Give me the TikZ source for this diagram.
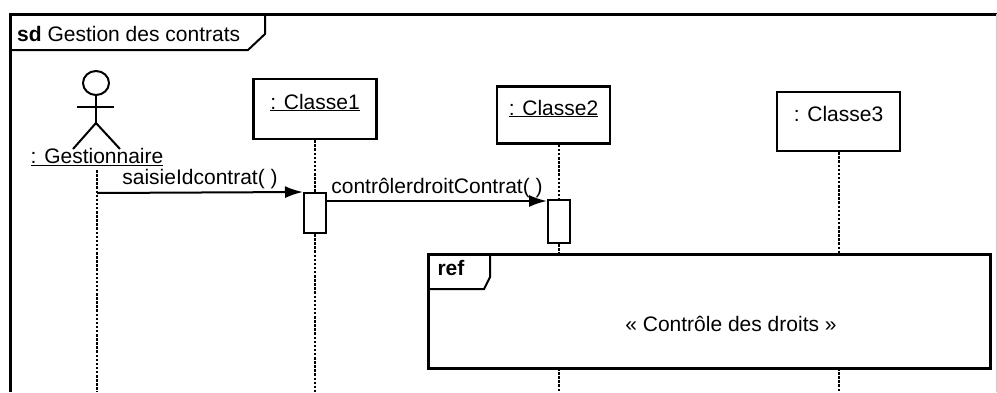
\documentclass[tikz,border=0pt]{standalone}
\usepackage{fontspec}
\setmainfont{Liberation Sans}
\usetikzlibrary{arrows.meta}
\usetikzlibrary{positioning}
\usetikzlibrary{calc}

\tikzset{
  objet/.style={draw, line width=2.4pt, minimum width=123pt, minimum height=60pt, inner sep=0pt},
  activ/.style={draw, line width=2pt, fill=white, minimum width=22pt, inner sep=0pt},
  vie/.style={line width=2pt, dash pattern=on 2.5pt off 1.6pt},
  msg/.style={line width=2pt, -{Latex[length=18pt,width=12pt]}},
  cadre/.style={line width=3pt}
}
\newcommand{\haut}[1]{\raisebox{0pt}[0pt][0pt]{#1}}

\begin{document}
\begin{tikzpicture}[x=1pt,y=-1pt,font=\fontsize{21}{25}\selectfont]
  \useasboundingbox (0,0) rectangle (997,392);
  \draw[cadre] (10,392) -- (10,14) -- (997,14);
  \draw[line width=1pt,black!20] (996,14) -- (996,392);
  \node[anchor=west,inner sep=0pt] (titre) at (17,34) {\textbf{sd} Gestion des contrats};
  \draw[line width=2pt] (10,50) -- (248,50) -- (265,34) -- (265,14);

  \draw[line width=2pt] (96,83) ellipse (13 and 12);
  \draw[line width=2pt] (96,95) -- (96,123);
  \draw[line width=2pt] (77,107) -- (114,107);
  \draw[line width=2pt] (73,149) -- (96,123) -- (120,149);
  \node[inner sep=1pt] (gest) at (97,157) {\underline{: Gestionnaire}};

  \node[objet] (c1) at (315,109) {\haut{\underline{: Classe1}}};
  \node[objet, minimum width=113pt, minimum height=57pt] (c2) at (553.5,115) {\haut{\underline{: Classe2}}};
  \node[objet, minimum height=59pt] (c3) at (838.5,121.5) {\haut{: Classe3}};

  \node[activ, minimum height=40pt] (a1) at (315,213) {};
  \node[activ, minimum height=43pt] (a2) at (559,221.5) {};

  \node[draw, cadre, minimum width=562pt, minimum height=114pt] (ref) at (709,311) {};
  \draw[line width=2pt] (428,289) -- (484,289) -- (490,277) -- (490,254);
  \node[font=\fontsize{21}{25}\selectfont\bfseries] (reftag) at (451,268) {ref};
  \node (nomref) at (731,324) {« Contrôle des droits »};

  \coordinate (m1) at (97,193);
  \draw[vie] (97,170) -- (97,392);
  \draw[vie] (c1.south) -- (a1.north);
  \draw[vie] (a1.south) -- (315,392);
  \draw[vie] (a2.north |- c2.south) -- (a2.north);
  \draw[vie] (a2.south) -- (a2.south |- ref.north);
  \draw[vie] (c3.south) -- (c3.south |- ref.north);
  \foreach \x in {559,838.5}
    \draw[vie] (\x,368) -- (\x,392);

  \draw[msg] (m1) -- (a1.north west) node[midway,above=-1pt] {saisieIdcontrat( )};
  \draw[msg] ([yshift=-9pt]a1.north east) -- ([yshift=-2pt]a2.north west) node[midway,above=-1pt] {contrôlerdroitContrat( )};
\end{tikzpicture}
\end{document}
